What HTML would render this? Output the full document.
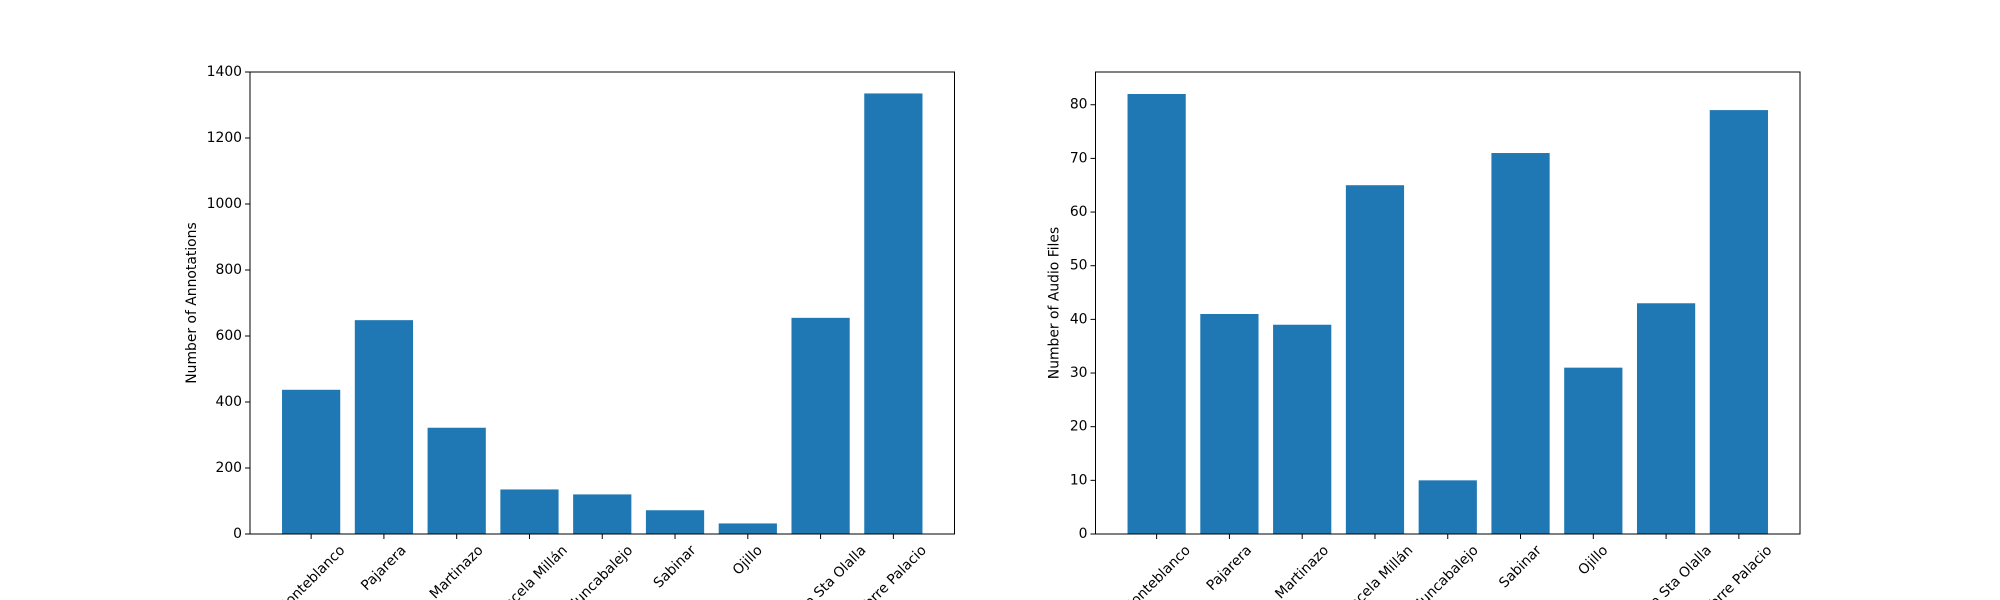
<!DOCTYPE html>
<html><head><meta charset="utf-8"><style>
html,body{margin:0;padding:0;background:#fff;width:2000px;height:600px;overflow:hidden;}
svg{display:block;font-family:"DejaVu Sans","Liberation Sans",sans-serif;}
</style></head><body>
<svg id="chart" width="2000" height="600" viewBox="0 0 2000 600" xmlns="http://www.w3.org/2000/svg" overflow="hidden"></svg>
<script>
const categories = ["Monteblanco","Pajarera","Martinazo","Cancela Millán","Juncabalejo","Sabinar","Ojillo","Laguna Sta Olalla","Torre Palacio"];
const annotationValues = [437, 648, 322, 135, 120, 72, 32, 655, 1335];
const audioValues = [82, 41, 39, 65, 10, 71, 31, 43, 79];
const annotationTicks = [0,200,400,600,800,1000,1200,1400];
const audioTicks = [0,10,20,30,40,50,60,70,80];

const NS = "http://www.w3.org/2000/svg";
const svg = document.getElementById('chart');
function mk(tag, attrs, parent){
  const e = document.createElementNS(NS, tag);
  for (const k in attrs) e.setAttribute(k, attrs[k]);
  (parent||svg).appendChild(e);
  return e;
}
function drawPanel(px0, px1, py0, py1, values, ticks, ymax, ylabel, prefix, titleOffset){
  const g = mk('g', {});
  
  
  const n = values.length;
  const xmin = -0.4 - 0.05*(n-1+0.8), xmax = n-1+0.4 + 0.05*(n-1+0.8);
  const xs = v => px0 + (v - xmin)/(xmax - xmin)*(px1 - px0);
  const ys = v => py1 - v/ymax*(py1 - py0);
  values.forEach((v,i)=>{
    const r = mk('rect', {x: xs(i-0.4), y: ys(v), width: xs(i+0.4)-xs(i-0.4), height: ys(0)-ys(v), fill:'#1f77b4'}, g);
    
    
  });
  ticks.forEach(t=>{
    const y = ys(t);
    mk('line', {x1: px0-5, x2: px0, y1: y, y2: y, stroke:'#000', 'stroke-width':1}, g);
    const tx = mk('text', {x: px0-8, y: y, 'font-size':13.9, 'text-anchor':'end', 'dominant-baseline':'central', fill:'#000'}, g);
    tx.textContent = t;
    
    
  });
  categories.forEach((c,i)=>{
    const x = xs(i);
    mk('line', {x1: x, x2: x, y1: py1, y2: py1+5, stroke:'#000', 'stroke-width':1}, g);
    const tx = mk('text', {x: 0, y: 0, 'font-size':13.9, 'text-anchor':'middle', 'dominant-baseline':'central', fill:'#000'}, g);
    tx.textContent = c;
    
    
    const w = tx.getComputedTextLength ? tx.getComputedTextLength() : c.length*8;
    const h = 16;
    const bh = (w + h) * Math.SQRT1_2;
    const cy = py1 + 5 + 3.5 + bh/2;
    tx.setAttribute('x', x); tx.setAttribute('y', cy);
    tx.setAttribute('transform', `rotate(-45 ${x} ${cy})`);
  });
  const fr = mk('rect', {x: px0, y: py0, width: px1-px0, height: py1-py0, fill:'none', stroke:'#000', 'stroke-width':1}, g);
  
  
  const cyl = (py0+py1)/2;
  const lx = px0 - titleOffset;
  const yl = mk('text', {x: lx, y: cyl, 'font-size':13.9, 'text-anchor':'middle', transform:`rotate(-90 ${lx} ${cyl})`, fill:'#000'}, g);
  yl.textContent = ylabel;
  
  
}
drawPanel(250, 954.5, 72, 534, annotationValues, annotationTicks, 1400, 'Number of Annotations', 'annotations', 54);
drawPanel(1095.5, 1800, 72, 534, audioValues, audioTicks, Math.max(...audioValues)*1.05, 'Number of Audio Files', 'audio', 37);
</script>
</body></html>
